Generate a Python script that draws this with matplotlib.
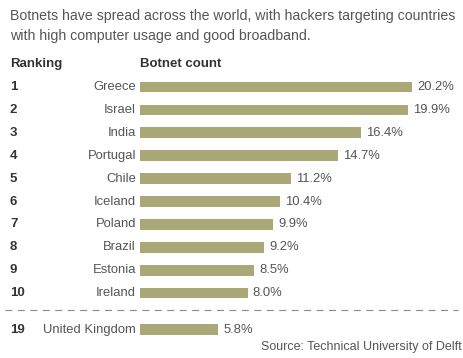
import matplotlib
matplotlib.use("Agg")
import matplotlib.pyplot as plt

# data
rankings = ["1", "2", "3", "4", "5", "6", "7", "8", "9", "10", "19"]
countries = ["Greece", "Israel", "India", "Portugal", "Chile", "Iceland",
             "Poland", "Brazil", "Estonia", "Ireland", "United Kingdom"]
botnet_pct = [20.2, 19.9, 16.4, 14.7, 11.2, 10.4, 9.9, 9.2, 8.5, 8.0, 5.8]

title = ("Botnets have spread across the world, with hackers targeting countries\n"
         "with high computer usage and good broadband.")
source = "Source: Technical University of Delft"

plt.rcParams['font.family'] = ['Liberation Sans', 'DejaVu Sans']

W, H = 464, 358
px_per_pct = 13.47   # bar length scale
x0 = 140             # left edge of bars in pixels
row0, row_step = 87, 22.9

fig = plt.figure(figsize=(W / 100, H / 100), dpi=100)
ax = fig.add_axes([0, 0, 1, 1])
ax.set_xlim(-x0 / px_per_pct, (W - x0) / px_per_pct)
ax.set_ylim((H - row0) / row_step, -row0 / row_step)
ax.axis("off")

# top ten rows, then a gap for the UK
ypos = list(range(10)) + [10.6]

bar_col = "#aba877"
ax.barh(ypos, botnet_pct, height=0.47, color=bar_col)

def px(x):
    return (x - x0) / px_per_pct

for y, rk, name, v in zip(ypos, rankings, countries, botnet_pct):
    ax.text(px(10), y, rk, ha="left", va="center", fontsize=9.5,
            fontweight="bold", color="#333333")
    ax.text(px(136), y, name, ha="right", va="center", fontsize=9.4,
            color="#555555")
    ax.text(v + 5 / px_per_pct, y, "%.1f%%" % v, ha="left", va="center",
            fontsize=9.4, color="#555555")

# headers
ax.text(px(10), -1.0, "Ranking", ha="left", va="center", fontsize=9.5,
        fontweight="bold", color="#333333")
ax.text(0, -1.0, "Botnet count", ha="left", va="center", fontsize=9.5,
        fontweight="bold", color="#333333")

# dashed separator
ax.plot([px(5), px(458)], [9.75, 9.75], color="#888888", lw=0.8,
        dashes=(6.2, 5.0))

fig.text(10 / W, 1 - 9 / H, title, ha="left", va="top", fontsize=10.15,
         color="#555555", linespacing=1.55)
fig.text(462 / W, 1 - 347 / H, source, ha="right", va="center",
         fontsize=9, color="#555555")

fig.savefig("out.png", dpi=100)
